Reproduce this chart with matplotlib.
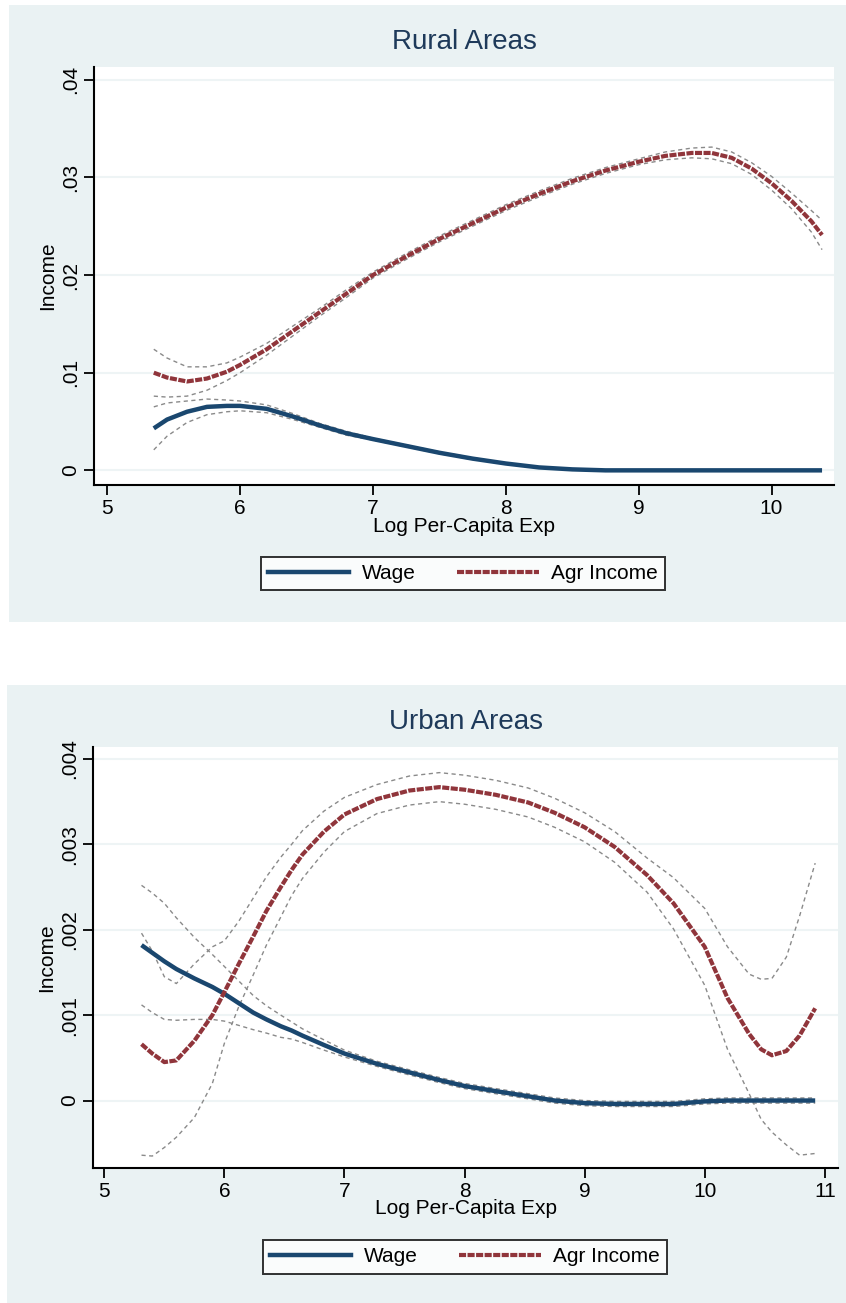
import matplotlib
matplotlib.use('Agg')
import matplotlib.pyplot as plt
from matplotlib.lines import Line2D

plt.rcParams['font.family'] = ['Liberation Sans', 'DejaVu Sans']

# ---- rural data ----
rural_x = [5.35, 5.45, 5.6, 5.75, 5.9, 6.0, 6.2, 6.4, 6.6, 6.8, 7.0, 7.25, 7.5, 7.75,
           8.0, 8.25, 8.5, 8.75, 9.0, 9.2, 9.4, 9.55, 9.7, 9.85, 10.0, 10.15, 10.3, 10.38]
rural_agr = [0.0100, 0.0095, 0.0091, 0.0094, 0.0101, 0.0108, 0.0124, 0.0143, 0.0162, 0.0181,
             0.0200, 0.0219, 0.0237, 0.0253, 0.0269, 0.0283, 0.0296, 0.0307, 0.0316, 0.0322,
             0.0325, 0.0325, 0.0320, 0.0309, 0.0294, 0.0276, 0.0255, 0.0241]
rural_agr_ci = [0.0024, 0.0020, 0.0015, 0.0012, 0.0009, 0.0008, 0.0006, 0.0005, 0.0004, 0.0004,
                0.0003, 0.0003, 0.0003, 0.0003, 0.0003, 0.0003, 0.0003, 0.0003, 0.0003, 0.0004,
                0.0005, 0.0006, 0.0006, 0.0006, 0.0007, 0.0008, 0.0011, 0.0015]
rural_wage = [0.0043, 0.0052, 0.0060, 0.0065, 0.0066, 0.0066, 0.0063, 0.0055, 0.0046, 0.0038,
              0.0032, 0.0025, 0.0018, 0.0012, 0.0007, 0.0003, 0.0001, 0.0, 0.0, 0.0,
              0.0, 0.0, 0.0, 0.0, 0.0, 0.0, 0.0, 0.0]
rural_wage_ci = [0.0022, 0.0017, 0.0011, 0.0008, 0.0006, 0.0005, 0.0004, 0.0003, 0.0002, 0.0002,
                 0.0001, 0.0001, 0.0001, 0.0001, 0.00005, 0.00005, 0.00005, 0.00005, 0.00005, 0.00005,
                 0.00005, 0.00005, 0.00005, 0.00005, 0.00005, 0.00005, 0.00005, 0.00005]

# ---- urban data ----
urban_x = [5.31, 5.4, 5.5, 5.6, 5.75, 5.9, 6.0, 6.12, 6.24, 6.35, 6.47, 6.56, 6.65, 6.83,
           7.0, 7.27, 7.54, 7.79, 8.0, 8.26, 8.53, 8.75, 9.0, 9.25, 9.52, 9.74, 10.0,
           10.19, 10.37, 10.47, 10.56, 10.68, 10.79, 10.92]
urban_agr = [0.00066, 0.00055, 0.00045, 0.00047, 0.00070, 0.00100, 0.00127, 0.00160, 0.00192,
             0.00222, 0.00250, 0.00270, 0.00288, 0.00315, 0.00335, 0.00353, 0.00363, 0.00367,
             0.00364, 0.00358, 0.00349, 0.00337, 0.00320, 0.00297, 0.00264, 0.00231, 0.00180,
             0.00120, 0.00078, 0.00060, 0.00053, 0.00058, 0.00076, 0.00108]
urban_agr_ci = [0.0013, 0.0012, 0.0010, 0.0009, 0.0009, 0.0008, 0.0006, 0.0005, 0.00045,
                0.0004, 0.00035, 0.0003, 0.00028, 0.00024, 0.0002, 0.00017, 0.00017, 0.00017,
                0.00017, 0.00017, 0.00017, 0.00017, 0.00017, 0.00018, 0.0002, 0.0003, 0.00045,
                0.0006, 0.0007, 0.00082, 0.0009, 0.0011, 0.0014, 0.0017]
urban_wage = [0.00182, 0.00173, 0.00163, 0.00154, 0.00143, 0.00133, 0.00125, 0.00114, 0.00103,
              0.00095, 0.00087, 0.00082, 0.00076, 0.00065, 0.00055, 0.00043, 0.00033, 0.00024,
              0.00017, 0.00011, 0.00005, 0.0, -0.00003, -0.00004, -0.00004, -0.00004, -0.00001,
              0.0, 0.0, 0.0, 0.0, 0.0, 0.0, 0.0]
urban_wage_ci = [0.0007, 0.0007, 0.00068, 0.0006, 0.00048, 0.00038, 0.00032, 0.00026, 0.0002,
                 0.00016, 0.00013, 0.0001, 0.00008, 0.00006, 0.00004, 0.00003, 0.00003, 0.00003,
                 0.00003, 0.00003, 0.00003, 0.00003, 0.00003, 0.00003, 0.00003, 0.00003, 0.00003,
                 0.00003, 0.00003, 0.00003, 0.00003, 0.00003, 0.00003, 0.00003]

rural_yticks = [0, 0.01, 0.02, 0.03, 0.04]
rural_ylabels = ['0', '.01', '.02', '.03', '.04']
urban_yticks = [0, 0.001, 0.002, 0.003, 0.004]
urban_ylabels = ['0', '.001', '.002', '.003', '.004']

BG = '#eaf2f3'
GRID = '#eef4f5'
BLUE = '#1a476f'
RED = '#90353b'
GRAY = '#8a8a8a'
RED_DASH = (1.7, 0.35)

W, H = 846, 1303
fig = plt.figure(figsize=(W / 100, H / 100), dpi=100)


def box(x0, y0, x1, y1):
    # pixel box from top-left -> figure fraction rect
    return [x0 / W, 1 - y1 / H, (x1 - x0) / W, (y1 - y0) / H]


# light panel backgrounds behind everything
for b in [box(9, 5, 846, 622), box(7, 685, 846, 1303)]:
    bg = fig.add_axes(b, zorder=-5)
    bg.set_facecolor(BG)
    bg.set_xticks([])
    bg.set_yticks([])
    for sp in bg.spines.values():
        sp.set_visible(False)


def panel(rect, title, x, agr, agr_ci, wage, wage_ci, xlim, ylim, xticks,
          yticks, ylabels, legend_center):
    ax = fig.add_axes(rect, zorder=1)
    ax.set_facecolor('white')
    for ys, hw in [(agr, agr_ci), (wage, wage_ci)]:
        up = [a + b for a, b in zip(ys, hw)]
        lo = [a - b for a, b in zip(ys, hw)]
        for s in (up, lo):
            ax.plot(x, s, color=GRAY, lw=1.0, dashes=(3, 2.5), zorder=2)
    ax.plot(x, wage, color=BLUE, lw=3.2, solid_capstyle='butt', zorder=3)
    ax.plot(x, agr, color=RED, lw=3.0, dashes=RED_DASH, zorder=3)

    ax.set_xlim(*xlim)
    ax.set_ylim(*ylim)
    ax.set_xticks(xticks)
    ax.set_xticklabels([str(t) for t in xticks])
    ax.set_yticks(yticks)
    ax.set_yticklabels(ylabels, rotation=90, va='center')
    ax.yaxis.grid(True, color=GRID, lw=1.5)
    ax.set_axisbelow(True)
    for sp in ['top', 'right']:
        ax.spines[sp].set_visible(False)
    for sp in ['left', 'bottom']:
        ax.spines[sp].set_linewidth(1.5)
    ax.tick_params(labelsize=15, length=7, width=1.3, pad=3, color='black')
    ax.set_title(title, fontsize=20, color='#1e3a5a', pad=13)
    ax.set_xlabel('Log Per-Capita Exp', fontsize=15, labelpad=-1)
    ax.set_ylabel('Income', fontsize=15, labelpad=3)

    handles = [Line2D([], [], color=BLUE, lw=3.2),
               Line2D([], [], color=RED, lw=3.0, dashes=RED_DASH)]
    leg = ax.legend(handles, ['Wage', 'Agr Income'], loc='center', ncol=2,
                    bbox_to_anchor=legend_center, bbox_transform=fig.transFigure,
                    fontsize=15, frameon=True, fancybox=False, edgecolor='black',
                    handlelength=3.9, handletextpad=0.6, columnspacing=2.0,
                    borderpad=0.35)
    leg.get_frame().set_linewidth(1.4)
    return ax


panel(box(94, 67, 834, 485), 'Rural Areas', rural_x, rural_agr, rural_agr_ci,
      rural_wage, rural_wage_ci, (4.90, 10.47), (-0.0015, 0.0413),
      [5, 6, 7, 8, 9, 10], rural_yticks, rural_ylabels,
      (463 / W, 1 - 573.5 / H))

panel(box(93, 747, 838, 1168), 'Urban Areas', urban_x, urban_agr, urban_agr_ci,
      urban_wage, urban_wage_ci, (4.906, 11.11), (-0.00079, 0.00414),
      [5, 6, 7, 8, 9, 10, 11], urban_yticks, urban_ylabels,
      (465 / W, 1 - 1257 / H))

fig.savefig('out.png', dpi=100)
